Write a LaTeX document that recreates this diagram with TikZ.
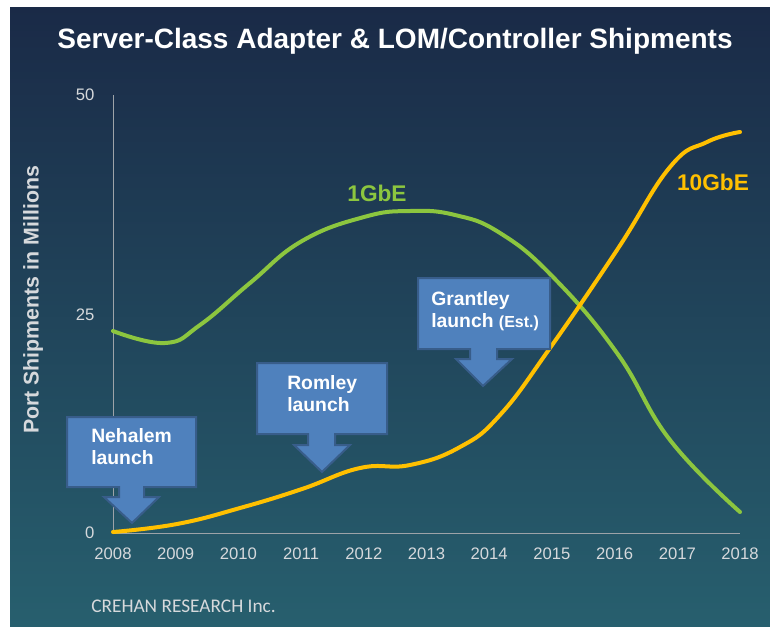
\documentclass[tikz,border=0pt]{standalone}
\usepackage{fontspec}
\setmainfont{Liberation Sans}
\newfontfamily\crehanfont{Carlito}
\definecolor{bgtop}{HTML}{1A2A47}
\definecolor{bgbottom}{HTML}{275F6E}
\definecolor{gbegreen}{HTML}{8CC63F}
\definecolor{tengold}{HTML}{FFC000}
\definecolor{calloutblue}{HTML}{4F81BD}
\definecolor{calloutedge}{HTML}{385D8A}
\definecolor{ticktext}{HTML}{D6D9DC}
\definecolor{axisgray}{HTML}{9DA3A8}
\begin{document}
\begin{tikzpicture}[x=0.75pt,y=-0.75pt,
    callout/.style={fill=calloutblue,draw=calloutedge,line width=1.5pt,line join=miter},
    callouttext/.style={anchor=north west,inner sep=0pt,align=left,text=white,
      font=\bfseries\fontsize{14.5}{16.5}\selectfont},
    ticklabel/.style={text=ticktext,font=\fontsize{12.5}{14}\selectfont},
    dataline/.style={line width=3pt,line cap=round,smooth,tension=0.75}]
  \useasboundingbox (0,0) rectangle (770,626);
  \fill[white] (0,0) rectangle (770,626);
  \shade[top color=bgtop,bottom color=bgbottom] (10,7) rectangle (770,626);
  % title and axis title
  \node[anchor=base,text=white,font=\bfseries\fontsize{21}{25}\selectfont] (title) at (395,48)
    {Server-Class Adapter \& LOM/Controller Shipments};
  \node[rotate=90,text=ticktext,font=\bfseries\fontsize{16}{18}\selectfont] (ytitle) at (33,300)
    {Port Shipments in Millions};
  % axes
  \coordinate (top) at (113,95);
  \coordinate (origin) at (113,533);
  \coordinate (right) at (740,533);
  \draw[axisgray,line width=0.6pt] (top) -- (origin) -- (right);
  \node[ticklabel,anchor=east] (v50) at (99,95) {50};
  \node[ticklabel,anchor=east] (v25) at (99,315) {25};
  \node[ticklabel,anchor=east] (v0) at (99,533) {0};
  \foreach \yr [count=\i from 0] in {2008,...,2018}
    \node[ticklabel] (y\yr) at ({113+62.7*\i},554) {\yr};
  % 1GbE
  \draw[gbegreen,dataline] plot coordinates {(113,331) (165,343) (200,325) (250,283)
    (302,241) (364,217) (410,211) (455,215) (500,233) (553,277)
    (617,353) (670,440) (740,512)};
  % 10GbE
  \draw[tengold,dataline] plot coordinates {(113,532) (177,524) (240,508) (302,489) (360,468)
    (410,465) (460,447) (500,415) (550,348) (617,250)
    (670,167) (707,142) (740,132)};
  \node[text=gbegreen,font=\bfseries\fontsize{17}{20}\selectfont] (gbe) at (377,193) {1GbE};
  \node[text=tengold,font=\bfseries\fontsize{17}{20}\selectfont] (tengbe) at (713,182) {10GbE};
  % launch callouts
  \draw[callout] (67,417) -- (196,417) -- (196,487) -- (144,487) -- (144,497) -- (159,497)
    -- (132,523) -- (104,497) -- (119,497) -- (119,487) -- (67,487) -- cycle;
  \node[callouttext] (nehalem) at (91,428) {Nehalem\\launch};
  \draw[callout] (257,363) -- (387,363) -- (387,434) -- (335,434) -- (335,445) -- (350,445)
    -- (322,472) -- (294,445) -- (308,445) -- (308,434) -- (257,434) -- cycle;
  \node[callouttext] (romley) at (287,375) {Romley\\launch};
  \draw[callout] (418,278) -- (550,278) -- (550,349) -- (497,349) -- (497,359) -- (512,359)
    -- (483,386) -- (456,359) -- (470,359) -- (470,349) -- (418,349) -- cycle;
  \node[callouttext] (grantley) at (431,291)
    {Grantley\\launch {\fontsize{12}{14}\selectfont(Est.)}};
  % source
  \node[anchor=base west,inner sep=0pt,text=ticktext,font=\crehanfont\fontsize{14.5}{17}\selectfont]
    (source) at (91,612) {CREHAN RESEARCH Inc.};
\end{tikzpicture}
\end{document}
